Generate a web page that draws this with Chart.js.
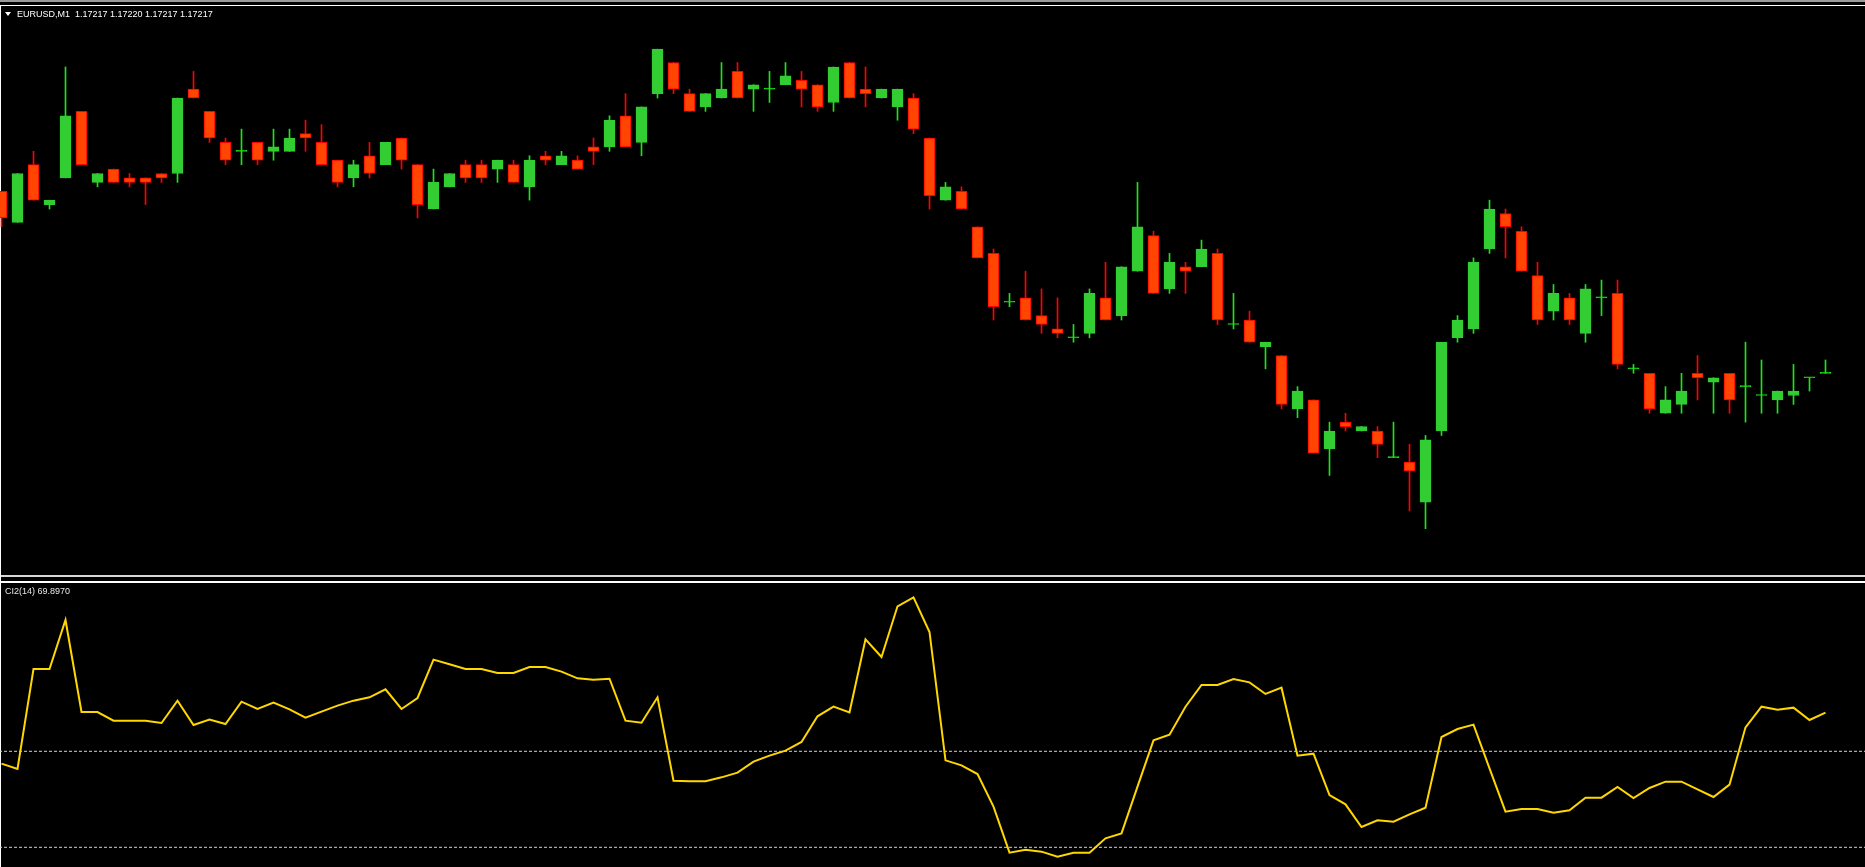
<!DOCTYPE html>
<html>
<head>
<meta charset="utf-8">
<title>EURUSD,M1</title>
<script src="https://cdn.jsdelivr.net/npm/chart.js@4.4.1/dist/chart.umd.min.js"></script>
<style>
  html, body { margin: 0; padding: 0; background: #000; overflow: hidden; }
  body { width: 1865px; height: 867px; position: relative; font-family: "Liberation Sans", Arial, sans-serif; }
  canvas { position: absolute; left: 0; }
  #main { top: 6px; }
  #sub { top: 583px; }
  .hline { position: absolute; left: 0; width: 1865px; }
  .label { position: absolute; font-size: 9px; line-height: 11px; white-space: pre; }
  #tri { position: absolute; left: 5px; top: 12px; width: 0; height: 0;
         border-left: 3px solid transparent; border-right: 3px solid transparent; border-top: 4px solid #fff; }
</style>
</head>
<body>
<div class="hline" style="top:0px;height:2px;background:#9a9a9a"></div>
<div class="hline" style="top:5px;height:1px;background:#fff"></div>
<div class="hline" style="top:575px;height:2px;background:#d8d8d8"></div>
<div class="hline" style="top:581px;height:2px;background:#fff"></div>
<div style="position:absolute;left:0;top:5px;width:1px;height:862px;background:#fff"></div>

<canvas id="main" width="1865" height="569"></canvas>
<canvas id="sub" width="1865" height="284"></canvas>

<div id="tri"></div>
<div class="label" style="left:17px;top:9px;color:#fff">EURUSD,M1  1.17217 1.17220 1.17217 1.17217</div>
<div class="label" style="left:5px;top:586px;color:#e6e6e6">CI2(14) 69.8970</div>

<script>
// EURUSD M1, 115 bars, oldest first
var OPEN = [1.17258,1.17251,1.17264,1.17255,1.17261,1.17276,1.17260,1.17263,1.17261,1.17261,
            1.17262,1.17262,1.17281,1.17276,1.17269,1.17267,1.17269,1.17267,1.17267,1.17271,
            1.17269,1.17265,1.17261,1.17266,1.17264,1.17270,1.17264,1.17254,1.17259,1.17264,
            1.17264,1.17263,1.17264,1.17259,1.17266,1.17264,1.17265,1.17268,1.17268,1.17275,
            1.17269,1.17280,1.17287,1.17280,1.17277,1.17279,1.17285,1.17281,1.17281,1.17282,
            1.17283,1.17282,1.17278,1.17287,1.17281,1.17279,1.17277,1.17279,1.17270,1.17256,
            1.17258,1.17250,1.17244,1.17233,1.17234,1.17230,1.17227,1.17225,1.17226,1.17234,
            1.17230,1.17240,1.17248,1.17236,1.17241,1.17241,1.17244,1.17228,1.17229,1.17223,
            1.17221,1.17209,1.17211,1.17200,1.17206,1.17204,1.17204,1.17198,1.17197,1.17188,
            1.17204,1.17225,1.17227,1.17245,1.17253,1.17249,1.17239,1.17231,1.17234,1.17226,
            1.17234,1.17235,1.17218,1.17217,1.17208,1.17210,1.17217,1.17215,1.17217,1.17214,
            1.17212,1.17211,1.17212,1.17216,1.17217];
var HIGH = [1.17258,1.17262,1.17267,1.17256,1.17286,1.17276,1.17262,1.17263,1.17262,1.17261,
            1.17262,1.17279,1.17285,1.17276,1.17270,1.17272,1.17269,1.17272,1.17272,1.17274,
            1.17273,1.17265,1.17265,1.17269,1.17269,1.17270,1.17264,1.17263,1.17262,1.17265,
            1.17265,1.17265,1.17265,1.17266,1.17267,1.17267,1.17266,1.17270,1.17275,1.17280,
            1.17277,1.17290,1.17287,1.17281,1.17280,1.17287,1.17287,1.17282,1.17285,1.17287,
            1.17285,1.17282,1.17286,1.17287,1.17286,1.17281,1.17281,1.17280,1.17270,1.17260,
            1.17259,1.17250,1.17245,1.17235,1.17240,1.17236,1.17234,1.17228,1.17236,1.17242,
            1.17241,1.17260,1.17249,1.17244,1.17242,1.17247,1.17245,1.17235,1.17231,1.17224,
            1.17221,1.17214,1.17211,1.17206,1.17208,1.17205,1.17205,1.17206,1.17201,1.17203,
            1.17224,1.17230,1.17243,1.17256,1.17254,1.17250,1.17242,1.17237,1.17235,1.17237,
            1.17238,1.17238,1.17219,1.17217,1.17214,1.17217,1.17221,1.17216,1.17217,1.17224,
            1.17220,1.17213,1.17219,1.17216,1.17220];
var LOW  = [1.17250,1.17251,1.17256,1.17254,1.17261,1.17264,1.17259,1.17260,1.17259,1.17255,
            1.17260,1.17260,1.17279,1.17269,1.17264,1.17264,1.17264,1.17265,1.17267,1.17267,
            1.17264,1.17259,1.17259,1.17261,1.17264,1.17263,1.17252,1.17254,1.17259,1.17260,
            1.17260,1.17260,1.17260,1.17256,1.17264,1.17264,1.17263,1.17264,1.17267,1.17268,
            1.17266,1.17279,1.17280,1.17276,1.17276,1.17279,1.17279,1.17276,1.17278,1.17282,
            1.17277,1.17276,1.17276,1.17279,1.17277,1.17279,1.17274,1.17271,1.17254,1.17256,
            1.17254,1.17243,1.17229,1.17232,1.17229,1.17226,1.17225,1.17224,1.17225,1.17229,
            1.17229,1.17240,1.17235,1.17235,1.17235,1.17241,1.17228,1.17227,1.17224,1.17218,
            1.17209,1.17207,1.17199,1.17194,1.17204,1.17204,1.17198,1.17198,1.17186,1.17182,
            1.17203,1.17224,1.17226,1.17244,1.17243,1.17240,1.17228,1.17229,1.17228,1.17224,
            1.17230,1.17218,1.17217,1.17208,1.17208,1.17208,1.17211,1.17208,1.17208,1.17206,
            1.17208,1.17208,1.17210,1.17213,1.17217];
var CLOSE = [1.17252,1.17262,1.17256,1.17256,1.17275,1.17264,1.17262,1.17260,1.17260,1.17260,
             1.17261,1.17279,1.17279,1.17270,1.17265,1.17267,1.17265,1.17268,1.17270,1.17270,
             1.17264,1.17260,1.17264,1.17262,1.17269,1.17265,1.17255,1.17260,1.17262,1.17261,
             1.17261,1.17265,1.17260,1.17265,1.17265,1.17266,1.17263,1.17267,1.17274,1.17268,
             1.17277,1.17290,1.17281,1.17276,1.17280,1.17281,1.17279,1.17282,1.17281,1.17284,
             1.17281,1.17277,1.17286,1.17279,1.17280,1.17281,1.17281,1.17272,1.17257,1.17259,
             1.17254,1.17243,1.17232,1.17233,1.17229,1.17228,1.17226,1.17225,1.17235,1.17229,
             1.17241,1.17250,1.17235,1.17242,1.17240,1.17245,1.17229,1.17228,1.17224,1.17224,
             1.17210,1.17213,1.17199,1.17204,1.17205,1.17205,1.17201,1.17198,1.17195,1.17202,
             1.17224,1.17229,1.17242,1.17254,1.17250,1.17240,1.17229,1.17235,1.17229,1.17236,
             1.17234,1.17219,1.17218,1.17209,1.17211,1.17213,1.17216,1.17216,1.17211,1.17214,
             1.17212,1.17213,1.17213,1.17216,1.17217];

// CI2(14) indicator values
var CI = [58.76,57.45,82.03,82.03,94.08,71.46,71.46,69.33,69.33,69.33,
          68.76,74.25,68.27,69.58,68.51,74.00,72.20,73.76,72.12,70.07,
          71.54,73.02,74.25,75.07,77.03,72.20,74.90,84.33,83.18,82.03,
          82.03,81.05,81.05,82.52,82.52,81.38,79.74,79.41,79.65,69.33,
          68.84,75.07,54.58,54.42,54.42,55.40,56.55,59.25,60.73,61.96,
          64.09,70.40,72.77,71.38,89.32,84.98,97.44,99.65,91.13,59.58,
          58.35,56.22,48.19,36.88,37.62,37.13,35.90,36.88,36.88,40.41,
          41.63,53.11,64.50,65.89,72.77,78.10,78.10,79.57,78.75,75.89,
          77.44,60.73,61.22,51.06,48.76,43.19,44.83,44.50,46.30,47.94,
          65.32,67.28,68.35,57.61,46.96,47.62,47.62,46.71,47.29,50.40,
          50.40,53.02,50.32,52.78,54.34,54.34,52.45,50.57,53.60,67.69,
          72.77,72.03,72.53,69.49,71.30];
var LEVELS = [61.8, 38.2];

// view window (16 px per bar, bar 0 half cut at the left edge)
var X_MIN = -1.5 / 16;
var X_MAX = X_MIN + 1865 / 16;
var PRICE_MIN = 1.1717157, PRICE_MAX = 1.1729973;
var CI_MIN = 33.36, CI_MAX = 103.17;

var BULL_BODY = '#32cd32', BULL_LINE = '#19e619';
var BEAR_BODY = '#ff4500', BEAR_LINE = '#ff0000';

var bodies = [], wicks = [], bodyFill = [], bodyBorder = [], wickColor = [];
for (var i = 0; i < OPEN.length; i++) {
    bodies.push({ x: i, y: [OPEN[i], CLOSE[i]] });
    wicks.push({ x: i, y: [LOW[i], HIGH[i]] });
    if (CLOSE[i] > OPEN[i]) {
        bodyFill.push(BULL_BODY); bodyBorder.push(BULL_BODY); wickColor.push(BULL_LINE);
    } else if (CLOSE[i] < OPEN[i]) {
        bodyFill.push(BEAR_BODY); bodyBorder.push(BEAR_LINE); wickColor.push(BEAR_LINE);
    } else {
        bodyFill.push(BULL_LINE); bodyBorder.push(BULL_LINE); wickColor.push(BULL_LINE);
    }
}

var ciPoints = CI.map(function(v, i) { return { x: i, y: v }; });
var levelSets = LEVELS.map(function(l) {
    return {
        type: 'line',
        data: [{ x: X_MIN - 1, y: l }, { x: X_MAX + 1, y: l }],
        borderColor: '#d2d2d2',
        borderWidth: 1,
        borderDash: [3, 2],
        pointRadius: 0,
        order: 2
    };
});

function baseOptions(yMin, yMax) {
    return {
        responsive: false,
        animation: false,
        events: [],
        layout: { padding: 0 },
        plugins: { legend: { display: false }, tooltip: { enabled: false } },
        scales: {
            x: { type: 'linear', display: false, offset: false, min: X_MIN, max: X_MAX },
            y: { display: false, min: yMin, max: yMax }
        }
    };
}

var mainOpts = baseOptions(PRICE_MIN, PRICE_MAX);
window.mainChart = new Chart(document.getElementById('main').getContext('2d'), {
    type: 'bar',
    data: {
        datasets: [{
            label: 'body',
            data: bodies,
            backgroundColor: bodyFill,
            borderColor: bodyBorder,
            borderWidth: 1,
            borderSkipped: false,
            barThickness: 11,
            minBarLength: 1,
            grouped: false,
            order: 0
        }, {
            label: 'wick',
            data: wicks,
            backgroundColor: wickColor,
            borderWidth: 0,
            barThickness: 1,
            grouped: false,
            order: 1
        }]
    },
    options: mainOpts
});

var subOpts = baseOptions(CI_MIN, CI_MAX);
window.subChart = new Chart(document.getElementById('sub').getContext('2d'), {
    type: 'line',
    data: {
        datasets: [{
            label: 'CI2(14)',
            data: ciPoints,
            borderColor: '#ffd700',
            borderWidth: 2,
            pointRadius: 0,
            tension: 0,
            order: 0
        }].concat(levelSets)
    },
    options: subOpts
});
</script>
</body>
</html>
